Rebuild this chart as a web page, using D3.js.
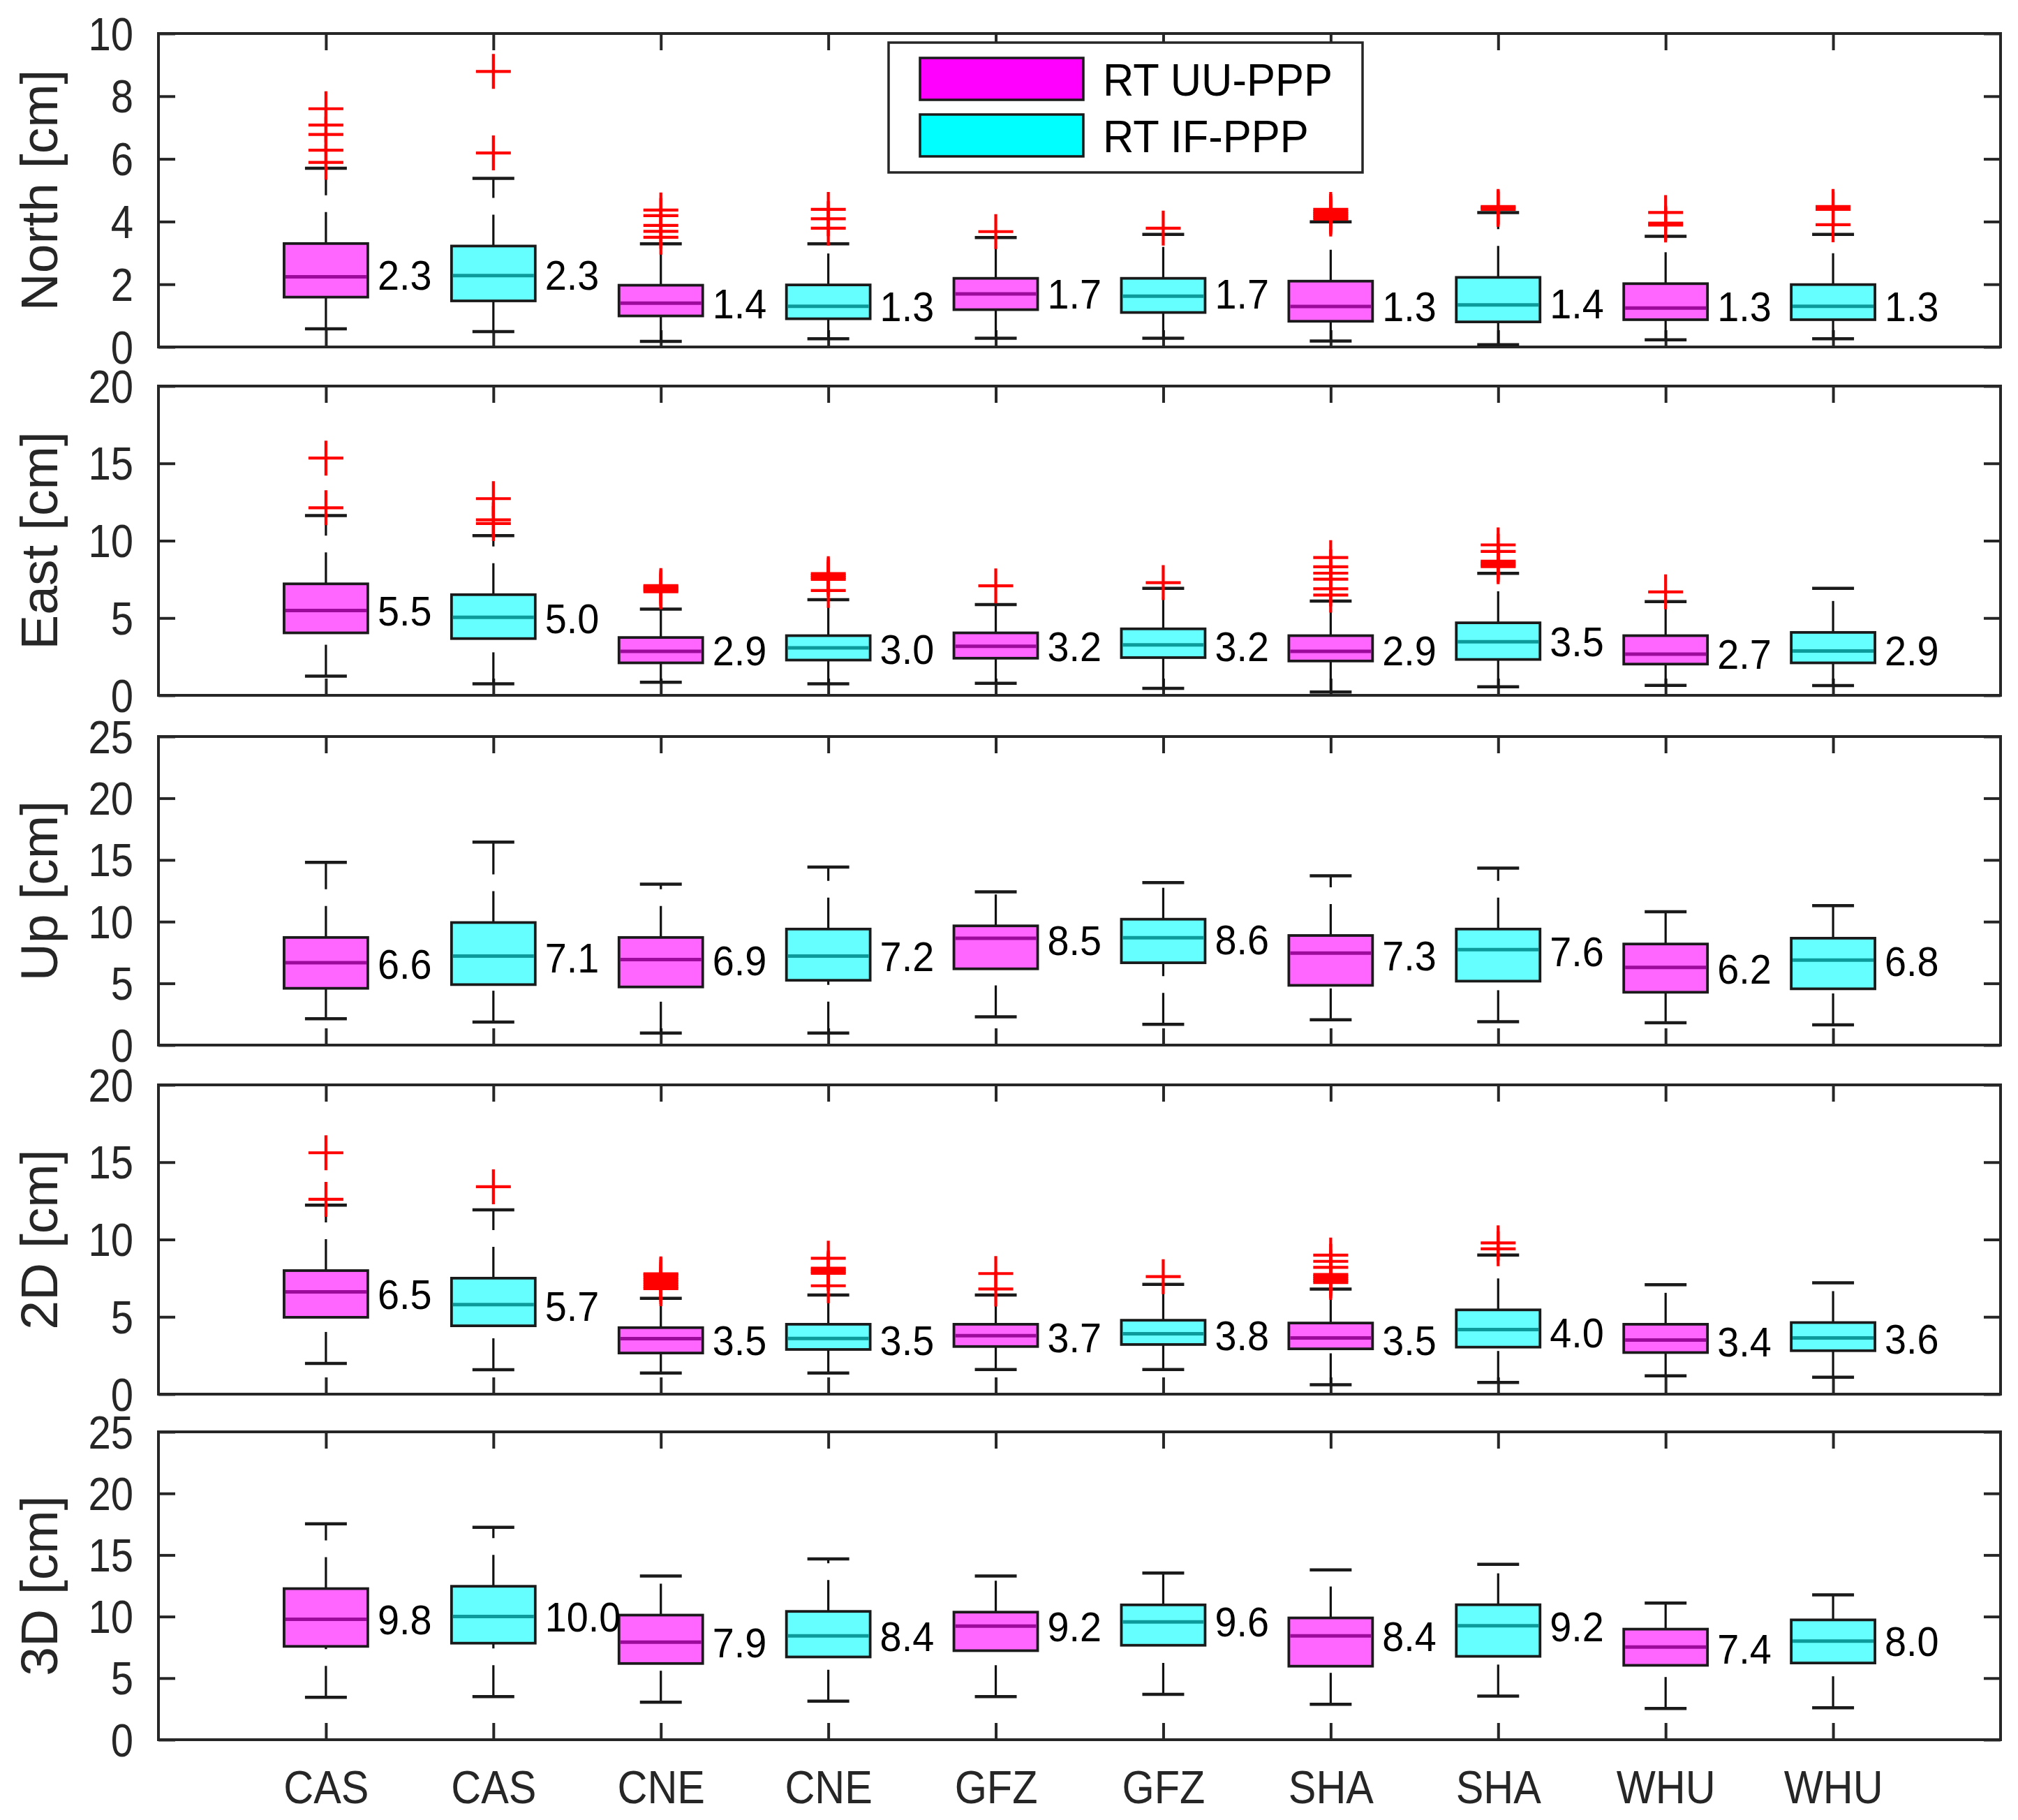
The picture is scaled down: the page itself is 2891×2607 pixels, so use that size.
<!DOCTYPE html>
<html><head><meta charset="utf-8">
<script src="https://cdn.jsdelivr.net/npm/d3@7"></script>
<style>html,body{margin:0;padding:0;background:#fff;} svg{display:block;} text{font-family:"Liberation Sans",Arial,sans-serif;}</style>
</head><body><svg id="c" width="2891" height="2607"></svg>
<script>
// ---------------- DATA ----------------
const categories = ["CAS","CAS","CNE","CNE","GFZ","GFZ","SHA","SHA","WHU","WHU"];
const seriesNames = ["RT UU-PPP","RT IF-PPP"];   // alternating: UU, IF, UU, IF ...

// North [cm]
const northQ1  = [1.59,1.47,0.99,0.90,1.19,1.10,0.82,0.80,0.87,0.87];
const northQ3  = [3.30,3.22,1.97,1.98,2.19,2.19,2.10,2.22,2.02,1.99];
const northMed = [2.24,2.28,1.40,1.30,1.69,1.62,1.29,1.34,1.24,1.30];
const northLo  = [0.58,0.49,0.18,0.26,0.28,0.28,0.19,0.07,0.23,0.26];
const northHi  = [5.70,5.38,3.29,3.29,3.49,3.59,3.99,4.29,3.53,3.59];
const northOut = [[5.89,6.28,6.78,7.08,7.60],[6.19,8.79],[3.50,3.69,3.88,4.19,4.37],[3.79,4.09,4.39],[3.68],[3.79],
                  [4.08,4.14,4.20,4.26,4.32,4.39],[4.39,4.44,4.48],[3.89,3.95,4.29],[3.90,4.39,4.48]];
const northLabels = ["2.3","2.3","1.4","1.3","1.7","1.7","1.3","1.4","1.3","1.3"];

// East [cm]
const eastQ1  = [4.04,3.67,2.10,2.28,2.40,2.44,2.22,2.32,2.02,2.10];
const eastQ3  = [7.21,6.51,3.74,3.86,4.04,4.30,3.86,4.69,3.86,4.07];
const eastMed = [5.49,5.04,2.84,3.07,3.17,3.26,2.84,3.47,2.66,2.87];
const eastLo  = [1.24,0.75,0.85,0.75,0.78,0.45,0.22,0.55,0.64,0.63];
const eastHi  = [11.63,10.33,5.58,6.18,5.87,6.92,6.09,7.89,6.06,6.92];
const eastOut = [[12.13,15.34],[11.11,11.35,12.72],[6.70,6.80,6.90,7.00,7.10],[6.78,7.50,7.62,7.75,7.87],[7.08],[7.29],
                 [6.48,6.89,7.51,7.90,8.31,8.91],[8.32,8.44,8.55,8.67,9.31,9.73],[6.69],[]];
const eastLabels = ["5.5","5.0","2.9","3.0","3.2","3.2","2.9","3.5","2.7","2.9"];

// Up [cm]
const upQ1  = [4.60,4.90,4.71,5.25,6.18,6.67,4.84,5.18,4.28,4.56];
const upQ3  = [8.72,9.93,8.72,9.40,9.66,10.20,8.88,9.40,8.19,8.66];
const upMed = [6.67,7.21,6.93,7.21,8.66,8.70,7.45,7.73,6.29,6.89];
const upLo  = [2.14,1.86,0.97,0.97,2.29,1.68,2.05,1.90,1.81,1.64];
const upHi  = [14.80,16.44,13.04,14.43,12.42,13.17,13.72,14.34,10.80,11.30];
const upOut = [[],[],[],[],[],[],[],[],[],[]];
const upLabels = ["6.6","7.1","6.9","7.2","8.5","8.6","7.3","7.6","6.2","6.8"];

// 2D [cm]
const hzQ1  = [4.97,4.42,2.66,2.89,3.08,3.21,2.93,3.04,2.69,2.81];
const hzQ3  = [7.99,7.50,4.30,4.52,4.52,4.78,4.60,5.45,4.52,4.63];
const hzMed = [6.61,5.79,3.59,3.60,3.78,3.90,3.63,4.18,3.50,3.63];
const hzLo  = [1.99,1.58,1.37,1.37,1.59,1.59,0.61,0.76,1.18,1.10];
const hzHi  = [12.22,11.92,6.20,6.41,6.41,7.10,6.80,8.99,7.08,7.20];
const hzOut = [[12.60,15.61],[13.41],[6.82,6.95,7.10,7.25,7.40,7.55,7.70,7.78],[7.01,7.81,7.92,8.04,8.15,8.79],[6.80,7.80],[7.60],
               [7.22,7.35,7.48,7.61,7.74,8.20,8.59,8.99],[9.40,9.78],[],[]];
const hzLabels = ["6.5","5.7","3.5","3.5","3.7","3.8","3.5","4.0","3.4","3.6"];

// 3D [cm]
const tdQ1  = [7.58,7.84,6.19,6.72,7.23,7.67,5.97,6.77,6.04,6.23];
const tdQ3  = [12.27,12.46,10.12,10.42,10.36,10.95,9.89,10.96,8.98,9.73];
const tdMed = [9.78,10.01,7.92,8.43,9.22,9.56,8.43,9.26,7.52,8.01];
const tdLo  = [3.44,3.50,3.05,3.13,3.50,3.69,2.88,3.55,2.54,2.60];
const tdHi  = [17.53,17.25,13.29,14.68,13.30,13.54,13.79,14.25,11.09,11.77];
const tdOut = [[],[],[],[],[],[],[],[],[],[]];
const tdLabels = ["9.8","10.0","7.9","8.4","9.2","9.6","8.4","9.2","7.4","8.0"];

const panelTitles = ["North [cm]","East [cm]","Up [cm]","2D [cm]","3D [cm]"];
const yMax   = [10,20,25,20,25];
const yStep  = [2,5,5,5,5];

// ---------------- STYLE / LAYOUT ----------------
const fills   = ["#ff66ff","#66ffff"];
const medCols = ["#9b0a9b","#0d9a9a"];
const legendCols = ["#ff00ff","#00ffff"];
const axisCol = "#262626";
const panelTops = [48,553,1055,1554,2051];
const panelBots = [497,996,1497,1997,2492];

const panels = [
  {title:panelTitles[0], q1:northQ1,q3:northQ3,med:northMed,lo:northLo,hi:northHi,out:northOut,lab:northLabels},
  {title:panelTitles[1], q1:eastQ1,q3:eastQ3,med:eastMed,lo:eastLo,hi:eastHi,out:eastOut,lab:eastLabels},
  {title:panelTitles[2], q1:upQ1,q3:upQ3,med:upMed,lo:upLo,hi:upHi,out:upOut,lab:upLabels},
  {title:panelTitles[3], q1:hzQ1,q3:hzQ3,med:hzMed,lo:hzLo,hi:hzHi,out:hzOut,lab:hzLabels},
  {title:panelTitles[4], q1:tdQ1,q3:tdQ3,med:tdMed,lo:tdLo,hi:tdHi,out:tdOut,lab:tdLabels}
];

const svg = d3.select("#c");
svg.append("rect").attr("width",2891).attr("height",2607).attr("fill","#fff");

const x = d3.scaleLinear().domain([0,11]).range([227,2866]);
const boxW = x(0.5)-x(0), capW = x(0.25)-x(0);
const tickLen = 24;

function condense(sel,f){
  sel.each(function(){
    const l=this.getComputedTextLength();
    if(l>0){ this.setAttribute("textLength", l*f); this.setAttribute("lengthAdjust","spacingAndGlyphs"); }
  });
}

panels.forEach((p,pi)=>{
  const top = panelTops[pi], bot = panelBots[pi];
  const y = d3.scaleLinear().domain([0,yMax[pi]]).range([bot, top]);
  const g = svg.append("g");
  const ticksY = d3.range(0, yMax[pi]+0.001, yStep[pi]);
  const ticksX = d3.range(1,11);

  // axes (ticks inward)
  const gl = g.append("g").attr("transform",`translate(${x(0)},0)`)
    .call(d3.axisLeft(y).tickValues(ticksY).tickSize(-tickLen).tickPadding(36).tickFormat(d3.format("d")));
  const gr = g.append("g").attr("transform",`translate(${x(11)},0)`)
    .call(d3.axisRight(y).tickValues(ticksY).tickSize(-tickLen).tickFormat(""));
  const gt = g.append("g").attr("transform",`translate(0,${top})`)
    .call(d3.axisTop(x).tickValues(ticksX).tickSize(-tickLen).tickFormat(""));
  const gb = g.append("g").attr("transform",`translate(0,${bot})`)
    .call(d3.axisBottom(x).tickValues(ticksX).tickSize(-tickLen).tickPadding(44)
      .tickFormat(pi===4 ? (d=>categories[d-1]) : ""));
  [gl,gr,gt,gb].forEach(a=>{
    a.select(".domain").remove();
    a.selectAll(".tick line").attr("stroke",axisCol).attr("stroke-width",4);
    a.selectAll(".tick text").attr("fill",axisCol).attr("font-size",66)
      .attr("font-family",'"Liberation Sans",Arial,sans-serif');
  });
  gl.selectAll(".tick text").attr("dy","0.35em");
  condense(gl.selectAll(".tick text"),0.88);
  if(pi===4) condense(gb.selectAll(".tick text"),0.9);

  // frame
  g.append("rect").attr("x",x(0)).attr("y",top).attr("width",x(11)-x(0)).attr("height",bot-top)
    .attr("fill","none").attr("stroke",axisCol).attr("stroke-width",4);

  // y label
  g.append("text").attr("transform",`translate(82,${(top+bot)/2}) rotate(-90)`)
    .attr("text-anchor","middle").attr("font-size",75).attr("fill",axisCol).text(p.title);

  const idx = d3.range(10);
  // whiskers (dashed, drawn upward from lower value)
  const wk = g.append("g").attr("stroke","#111").attr("stroke-width",3.2).attr("stroke-dasharray","45,24").attr("fill","none");
  wk.selectAll(".wu").data(idx).join("line")
    .attr("x1",i=>x(i+1)).attr("x2",i=>x(i+1)).attr("y1",i=>y(p.q3[i])).attr("y2",i=>y(p.hi[i]));
  wk.selectAll(".wl").data(idx).join("line").attr("class","wl")
    .attr("x1",i=>x(i+1)).attr("x2",i=>x(i+1)).attr("y1",i=>y(p.lo[i])).attr("y2",i=>y(p.q1[i]));
  // caps
  const cp = g.append("g").attr("stroke","#1a1a1a").attr("stroke-width",4.5);
  cp.selectAll(".cu").data(idx).join("line")
    .attr("x1",i=>x(i+1)-capW/2).attr("x2",i=>x(i+1)+capW/2).attr("y1",i=>y(p.hi[i])).attr("y2",i=>y(p.hi[i]));
  cp.selectAll(".cl").data(idx).join("line").attr("class","cl")
    .attr("x1",i=>x(i+1)-capW/2).attr("x2",i=>x(i+1)+capW/2).attr("y1",i=>y(p.lo[i])).attr("y2",i=>y(p.lo[i]));
  // boxes
  g.append("g").selectAll("rect").data(idx).join("rect")
    .attr("x",i=>x(i+1)-boxW/2).attr("width",boxW)
    .attr("y",i=>y(p.q3[i])).attr("height",i=>y(p.q1[i])-y(p.q3[i]))
    .attr("fill",i=>fills[i%2]).attr("stroke","#1a1a1a").attr("stroke-width",3.8);
  // medians
  g.append("g").selectAll("line").data(idx).join("line")
    .attr("x1",i=>x(i+1)-boxW/2+2).attr("x2",i=>x(i+1)+boxW/2-2)
    .attr("y1",i=>y(p.med[i])).attr("y2",i=>y(p.med[i]))
    .attr("stroke",i=>medCols[i%2]).attr("stroke-width",5);
  // labels
  const lt = g.append("g").selectAll("text").data(idx).join("text")
    .attr("x",i=>x(i+1)+boxW/2+14).attr("y",i=>y(+p.lab[i])).attr("dy","0.36em")
    .attr("font-size",60).attr("fill","#000").text(i=>p.lab[i]);
  condense(lt,0.93);
  // outliers
  const outs = [];
  p.out.forEach((arr,i)=>arr.forEach(v=>outs.push({i,v})));
  g.append("g").selectAll("path").data(outs).join("path")
    .attr("d",d=>{const cx=x(d.i+1), cy=y(d.v); return `M${cx-25},${cy}h50M${cx},${cy-25}v50`;})
    .attr("stroke","#ff0000").attr("stroke-width",4.2).attr("fill","none");
});

// legend
const lg = svg.append("g");
lg.append("rect").attr("x",1273).attr("y",61).attr("width",679).attr("height",186)
  .attr("fill","#fff").attr("stroke",axisCol).attr("stroke-width",3.5);
seriesNames.forEach((s,k)=>{
  const yy = 83 + k*81;
  lg.append("rect").attr("x",1318).attr("y",yy).attr("width",234).attr("height",60)
    .attr("fill",legendCols[k]).attr("stroke","#1a1a1a").attr("stroke-width",3.5);
  const t = lg.append("text").attr("x",1580).attr("y",yy+54).attr("font-size",64).attr("fill","#000").text(s);
  condense(t,0.96);
});
</script></body></html>
